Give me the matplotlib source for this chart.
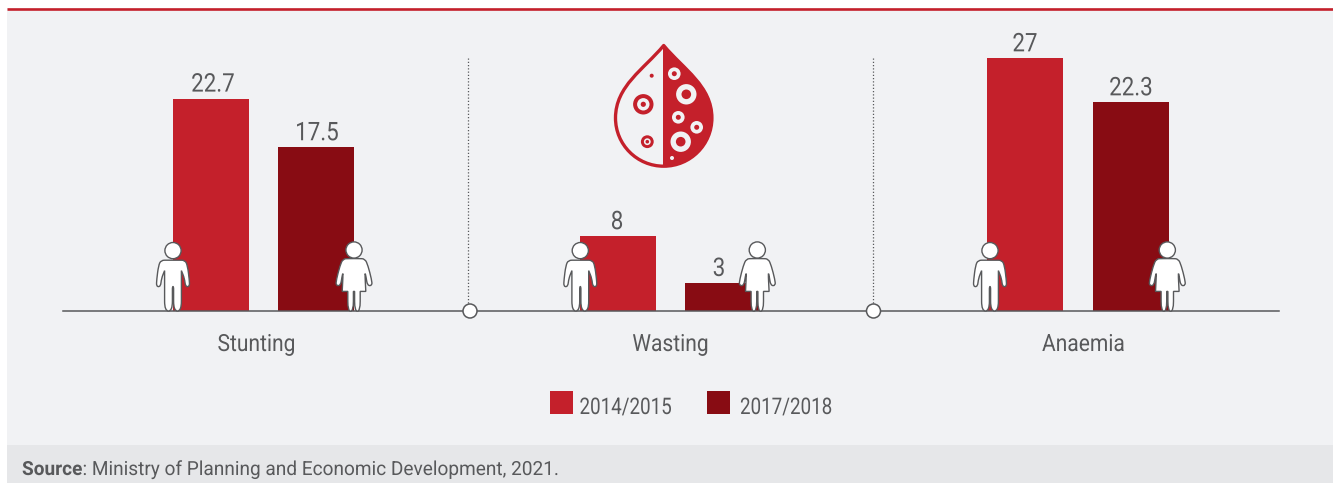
import matplotlib
matplotlib.use("Agg")
import matplotlib.pyplot as plt
from matplotlib.patches import Circle, PathPatch, Rectangle
from matplotlib.path import Path
from matplotlib.patheffects import AbstractPathEffect
from matplotlib.transforms import Affine2D

categories = ["Stunting", "Wasting", "Anaemia"]
years = ["2014/2015", "2017/2018"]
values_2014 = [22.7, 8, 27]
values_2017 = [17.5, 3, 22.3]
value_labels_2014 = ["22.7", "8", "27"]
value_labels_2017 = ["17.5", "3", "22.3"]
source_bold = "Source"
source_rest = ": Ministry of Planning and Economic Development, 2021."

RED = "#C4202B"
DARK = "#880C13"
BG = "#F1F2F4"
FOOT = "#E6E7E9"
TXT = "#58595B"
LINE = "#58595B"

plt.rcParams["font.family"] = ["Roboto", "DejaVu Sans"]

W, H = 1333, 483


class Condense(AbstractPathEffect):
    """Narrow a text horizontally around a fixed pixel x (no condensed font is installed)."""
    def __init__(self, x0, sx):
        super().__init__()
        self.x0, self.sx = x0, sx

    def draw_path(self, renderer, gc, tpath, affine, rgbFace=None):
        t = affine + Affine2D().translate(-self.x0, 0).scale(self.sx, 1).translate(self.x0, 0)
        renderer.draw_path(gc, tpath, t, rgbFace)


fig = plt.figure(figsize=(W / 100, H / 100), dpi=100, facecolor="white")
px = fig.add_axes([0, 0, 1, 1])
px.set_xlim(0, W)
px.set_ylim(H, 0)
px.axis("off")

px.add_patch(Rectangle((6.5, 8), W - 6.5, 437, fc=BG, ec="none", zorder=0))
px.add_patch(Rectangle((6.5, 445), W - 6.5, 38, fc=FOOT, ec="none", zorder=0))
px.plot([6.5, W], [8.6, 8.6], color=RED, lw=1.9, zorder=1, solid_capstyle="butt")

# Data axes: x in pixels, y in chart units
base_px = 311
scale = 9.36
ax = fig.add_axes([0, 0, 1, 1], facecolor="none")
ax.set_xlim(0, W)
ax.set_ylim(-(H - base_px) / scale, base_px / scale)
ax.axis("off")

left_x = [173, 580, 987]
right_x = [278, 685, 1093]
label_shift_left = [2, -1, 0]
label_shift_right = [1, -4, 0]
bar_w = 76
ax.bar(left_x, values_2014, width=bar_w, align="edge", color=RED, zorder=2)
ax.bar(right_x, values_2017, width=bar_w, align="edge", color=DARK, zorder=2)

for xs, vals, labs, shifts in ((left_x, values_2014, value_labels_2014, label_shift_left),
                               (right_x, values_2017, value_labels_2017, label_shift_right)):
    for x, v, s, d in zip(xs, vals, labs, shifts):
        c = x + bar_w / 2 + d
        ax.annotate(s, (c, v), xytext=(0, 5), textcoords="offset points",
                    ha="center", va="baseline", fontsize=18.5, color=TXT, zorder=5,
                    path_effects=[Condense(c, 0.87)])

px.set_zorder(1)
ax.set_zorder(2)
ov = fig.add_axes([0, 0, 1, 1], facecolor="none")
ov.set_xlim(0, W)
ov.set_ylim(H, 0)
ov.axis("off")
ov.set_zorder(3)

ov.plot([63, 1279], [311, 311], color=LINE, lw=1.1, zorder=3)
for x in (467.8, 873):
    ov.plot([x, x], [58, 304], color=LINE, lw=0.9, ls=(0, (1, 1.6)), zorder=3)
for x in (470, 873.5):
    ov.add_patch(Circle((x, 311), 7, fc="white", ec=LINE, lw=1.1, zorder=4))

for c, x in zip(categories, (256.5, 670.5, 1083.5)):
    ov.text(x, 351, c, ha="center", va="baseline", fontsize=17, color=TXT,
            path_effects=[Condense(x, 0.89)])


def rounded(points):
    """Closed path: control polygon rounded with quadratic curves."""
    n = len(points)
    mid = lambda a, b: ((a[0] + b[0]) / 2, (a[1] + b[1]) / 2)
    verts = [mid(points[-1], points[0])]
    codes = [Path.MOVETO]
    for i in range(n):
        verts += [points[i], mid(points[i], points[(i + 1) % n])]
        codes += [Path.CURVE3, Path.CURVE3]
    return Path(verts, codes)


def figure_path(cx, top, half):
    pts = [(cx + dx, top + dy) for dx, dy in half]
    pts += [(cx - dx, top + dy) for dx, dy in reversed(half)]
    return rounded(pts)


boy_half = [(5, 18.6), (12, 18.6), (14.5, 24), (16.3, 38), (16.6, 45), (12.4, 45),
            (11.6, 37), (8.4, 29), (8.4, 29), (8.4, 50), (8.4, 69.4), (0.6, 69.4),
            (0.6, 50), (0.6, 45)]
girl_half = [(5, 17), (11, 17.2), (14, 24), (17.6, 38), (18.2, 44), (13.4, 44),
             (12, 35), (10.8, 30), (11.8, 49.8), (11.8, 49.8), (6.2, 49.8), (6.2, 49.8),
             (6.2, 69.6), (0.6, 69.6), (0.6, 49.8), (0.6, 49.8)]


def person(cx, top, half, head_y):
    ov.add_patch(PathPatch(figure_path(cx, top, half), fc="white", ec=LINE, lw=1.0, zorder=6))
    ov.add_patch(Circle((cx, head_y), 8.1, fc="white", ec=LINE, lw=1.0, zorder=6))


for cx in (173, 580.3, 990):
    person(cx, 241.6, boy_half, 250.6)
for cx in (354, 757.3, 1167.3):
    person(cx, 241.6, girl_half, 250)

# Blood drop icon
cx, tipy, cy, r = 663.7, 45.5, 118, 48.2
k = 0.5523 * r
drop_v = [
    (cx, tipy),
    (cx - 20, tipy + 24), (cx - r, cy - 32), (cx - r, cy),
    (cx - r, cy + k), (cx - k, cy + r), (cx, cy + r),
    (cx + k, cy + r), (cx + r, cy + k), (cx + r, cy),
    (cx + r, cy - 32), (cx + 20, tipy + 24), (cx, tipy),
    (cx, tipy),
]
drop_c = [Path.MOVETO] + [Path.CURVE4] * 12 + [Path.CLOSEPOLY]
ov.add_patch(PathPatch(Path(drop_v, drop_c), fc=BG, ec=RED, lw=2.4, joinstyle="round", zorder=3))
right_v = [
    (cx, tipy), (cx, cy + r),
    (cx + k, cy + r), (cx + r, cy + k), (cx + r, cy),
    (cx + r, cy - 32), (cx + 20, tipy + 24), (cx, tipy),
    (cx, tipy),
]
right_c = [Path.MOVETO, Path.LINETO] + [Path.CURVE4] * 6 + [Path.CLOSEPOLY]
ov.add_patch(PathPatch(Path(right_v, right_c), fc=RED, ec=RED, lw=1.0, zorder=3))

for x, y0, a, b, c in [(643.3, 104.3, 10.2, 6.2, 2.6), (647.3, 141.7, 6.4, 3.4, 1.8)]:
    ov.add_patch(Circle((x, y0), a, fc=RED, ec="none", zorder=4))
    ov.add_patch(Circle((x, y0), b, fc=BG, ec="none", zorder=4))
    ov.add_patch(Circle((x, y0), c, fc=RED, ec="none", zorder=4))
ov.add_patch(Circle((651.7, 75.7), 2, fc=RED, ec="none", zorder=4))

for x, y0, a, b in [(674.3, 73.7, 6.3, 2.5), (686.3, 94.3, 10.2, 4.8),
                    (678.3, 117.3, 6.3, 2.5), (696.7, 127.3, 6.3, 2.5),
                    (680.7, 141.7, 10.2, 4.8)]:
    ov.add_patch(Circle((x, y0), a, fc=BG, ec="none", zorder=4))
    ov.add_patch(Circle((x, y0), b, fc=RED, ec="none", zorder=4))
ov.add_patch(Circle((672, 158), 2, fc=BG, ec="none", zorder=4))

# Legend
for x0, col, lab, tx in zip((550, 707), (RED, DARK), years, (579.5, 740)):
    ov.add_patch(Rectangle((x0, 391), 23, 23, fc=col, ec="none", zorder=3))
    ov.text(tx, 414, lab, ha="left", va="baseline", fontsize=16.5, color=TXT,
            path_effects=[Condense(tx, 0.82)])

# Source
sx = 0.98
t = ov.text(22, 475, source_bold, ha="left", va="baseline", fontsize=14, color=TXT,
            fontweight="bold", path_effects=[Condense(22, sx)])
fig.canvas.draw()
x1 = t.get_window_extent().x1
ov.text(x1, 475, source_rest, ha="left", va="baseline", fontsize=14, color=TXT,
        path_effects=[Condense(22, sx)])

fig.savefig("out.png", dpi=100, facecolor="white")
